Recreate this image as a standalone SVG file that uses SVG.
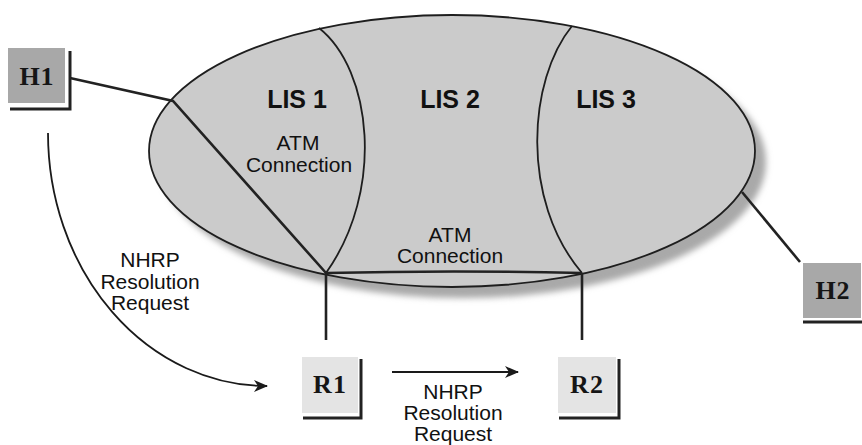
<svg xmlns="http://www.w3.org/2000/svg" width="862" height="445" viewBox="0 0 862 445">
  <defs>
    <filter id="soft" x="-10%" y="-10%" width="120%" height="120%">
      <feGaussianBlur stdDeviation="3"/>
    </filter>
    <marker id="head" markerWidth="14" markerHeight="12" refX="13" refY="6" orient="auto" markerUnits="userSpaceOnUse">
      <path d="M0,0 L14,6 L0,12 L4,6 Z" fill="#1a1a1a"/>
    </marker>
  </defs>
  <style>
    .link { fill: none; stroke: #222; stroke-width: 2.6; }
    .flow { fill: none; stroke: #1a1a1a; stroke-width: 1.8; }
    .edge { fill: none; stroke: #1e1e1e; stroke-width: 1.8; }
    .cloud { fill: #cbcbcb; stroke: #1e1e1e; stroke-width: 1.8; }
    .shade { fill: #a9a9a9; }
    .lbl { font-family: "Liberation Sans", Arial, sans-serif; font-size: 21px; fill: #111; text-anchor: middle; }
    .lis { font-family: "Liberation Sans", Arial, sans-serif; font-size: 25px; font-weight: bold; fill: #111; text-anchor: middle; }
    .dev { font-family: "Liberation Serif", "Times New Roman", serif; font-size: 26px; font-weight: bold; fill: #151515; text-anchor: middle; letter-spacing: 1px; }
    .host { fill: #a8a8a8; }
    .router { fill: #e4e4e4; }
    .drop { fill: none; stroke: #222; stroke-width: 3; }
  </style>

  <!-- ATM network: soft drop shadow, ellipse and the three LIS boundaries -->
  <g id="atm-cloud">
    <ellipse class="shade" cx="463" cy="162" rx="303" ry="136" filter="url(#soft)"/>
    <ellipse class="cloud" cx="452" cy="151" rx="303" ry="136"/>
    <path class="edge" d="M319,28 C372,70 385,190 326,273"/>
    <path class="edge" d="M572,26 C528,80 520,200 582,273"/>
    <text class="lis" x="297" y="108">LIS 1</text>
    <text class="lis" x="450" y="108">LIS 2</text>
    <text class="lis" x="606" y="108">LIS 3</text>
  </g>

  <!-- connectors -->
  <g id="connectors">
    <path class="link" d="M70,78 L173,101 L326,273"/>
    <path class="link" d="M326,273 Q454,270 582,273"/>
    <path class="link" d="M326,273 L326,340"/>
    <path class="link" d="M582,273 L582,340"/>
    <path class="link" d="M742,192 L800,262"/>
    <path class="flow" d="M48,133 A219,253 0 0 0 267,386" marker-end="url(#head)"/>
    <path class="flow" d="M392,372 L518,372" marker-end="url(#head)"/>
  </g>

  <!-- connector labels -->
  <g id="labels">
    <text class="lbl" x="298" y="150">ATM</text>
    <text class="lbl" x="299" y="172">Connection</text>
    <text class="lbl" x="450" y="242">ATM</text>
    <text class="lbl" x="450" y="263">Connection</text>
    <text class="lbl" x="150" y="267">NHRP</text>
    <text class="lbl" x="150" y="289">Resolution</text>
    <text class="lbl" x="150" y="310">Request</text>
    <text class="lbl" x="453" y="399">NHRP</text>
    <text class="lbl" x="453" y="420">Resolution</text>
    <text class="lbl" x="453" y="441">Request</text>
  </g>

  <g id="H1">
    <rect class="host" x="8" y="48" width="57" height="55"/>
    <path class="drop" d="M70,51 L70,109 L10,109"/>
    <text class="dev" x="37" y="85">H1</text>
  </g>

  <g id="H2">
    <rect class="host" x="803" y="263" width="58" height="55"/>
    <path class="drop" d="M803,322 L862,322"/>
    <text class="dev" x="833" y="299">H2</text>
  </g>

  <g id="R1">
    <rect class="router" x="302" y="357" width="56" height="56"/>
    <path class="drop" d="M361,359 L361,418 L303,418"/>
    <text class="dev" x="330" y="393">R1</text>
  </g>

  <g id="R2">
    <rect class="router" x="558" y="357" width="58" height="56"/>
    <path class="drop" d="M619,359 L619,418 L559,418"/>
    <text class="dev" x="587" y="393">R2</text>
  </g>
</svg>
